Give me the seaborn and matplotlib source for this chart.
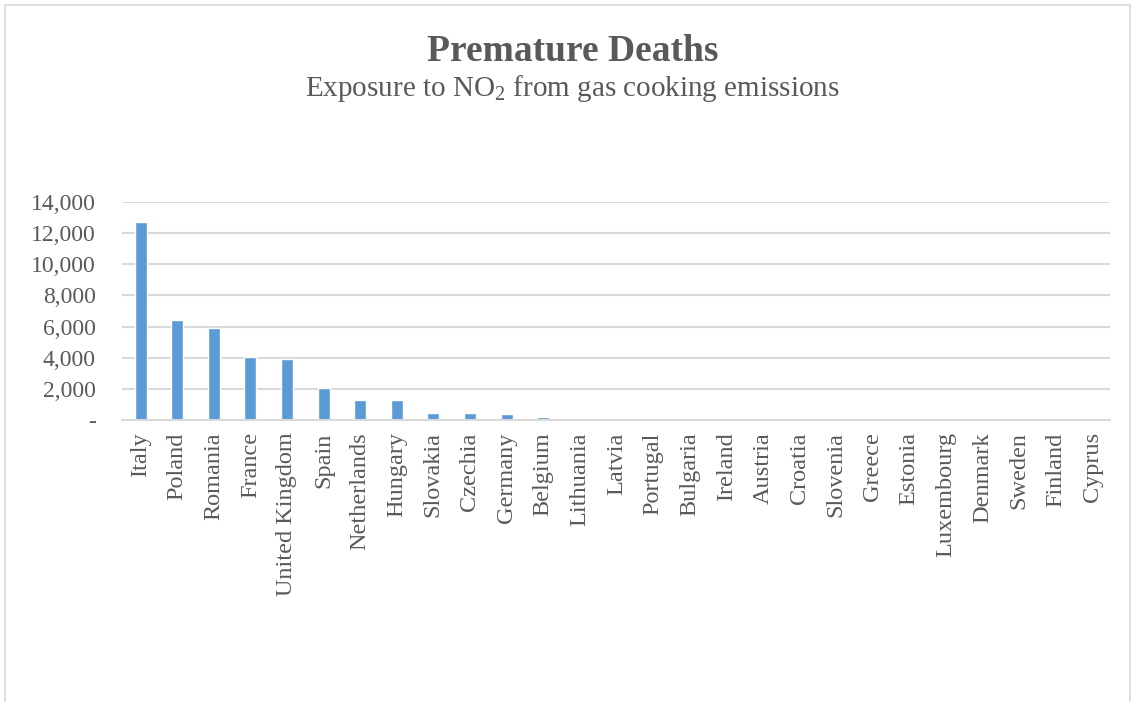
import matplotlib
matplotlib.use("Agg")
import matplotlib.pyplot as plt
from matplotlib.ticker import FuncFormatter
from matplotlib.patches import Rectangle
import seaborn as sns
import pandas as pd

countries = ["Italy", "Poland", "Romania", "France", "United Kingdom", "Spain",
             "Netherlands", "Hungary", "Slovakia", "Czechia", "Germany", "Belgium",
             "Lithuania", "Latvia", "Portugal", "Bulgaria", "Ireland", "Austria",
             "Croatia", "Slovenia", "Greece", "Estonia", "Luxembourg", "Denmark",
             "Sweden", "Finland", "Cyprus"]
deaths = [12750, 6400, 5900, 4060, 3920, 2040, 1290, 1280, 460, 450, 350, 160,
          110, 80, 40, 10, 8, 6, 5, 4, 3, 3, 2, 2, 2, 1, 1]
y_ticks = [0, 2000, 4000, 6000, 8000, 10000, 12000, 14000]

title = "Premature Deaths"
subtitle = "Exposure to NO$_2$ from gas cooking emissions"

sns.set_style("white")
plt.rcParams["font.family"] = ["Liberation Serif", "DejaVu Serif"]
plt.rcParams["mathtext.fontset"] = "custom"
plt.rcParams["mathtext.rm"] = "Liberation Serif"
plt.rcParams["mathtext.it"] = "Liberation Serif:italic"

text_color = "#595959"
grid_color = "#D9D9D9"
bar_color = "#5B9BD5"

df = pd.DataFrame({"country": countries, "deaths": deaths})

fig = plt.figure(figsize=(11.32, 7.02), dpi=100)
ax = fig.add_axes([0.108, 0.402, 0.873, 0.31])

sns.barplot(data=df, x="country", y="deaths", color=bar_color, width=0.33,
            saturation=1, ax=ax, order=countries)

ax.set_xlim(-0.5, len(countries) - 0.5)
ax.set_ylim(0, 14000)
ax.set_yticks(y_ticks)
ax.yaxis.set_major_formatter(FuncFormatter(lambda v, p: "-" if v == 0 else f"{int(v):,}"))
ax.grid(axis="y", color=grid_color, linewidth=1.5)
ax.set_axisbelow(True)
for side in ["top", "right", "left"]:
    ax.spines[side].set_visible(False)
ax.spines["bottom"].set_color(grid_color)
ax.spines["bottom"].set_linewidth(1.5)

ax.set_xlabel("")
ax.set_ylabel("")
ax.tick_params(axis="y", length=0, pad=19, labelsize=17, labelcolor=text_color)
ax.tick_params(axis="x", length=0, pad=9, labelsize=17.5, labelcolor=text_color,
               labelrotation=90)

fig.text(0.506, 0.927, title, ha="center", va="center", fontsize=27,
         fontweight="bold", color=text_color)
fig.text(0.506, 0.874, subtitle, ha="center", va="center", fontsize=21,
         color=text_color)

fig.patches.append(Rectangle((0.004, -0.01), 0.994, 1.003, transform=fig.transFigure,
                             fill=False, edgecolor=grid_color, linewidth=1.2))

fig.savefig("out.png", dpi=100)
